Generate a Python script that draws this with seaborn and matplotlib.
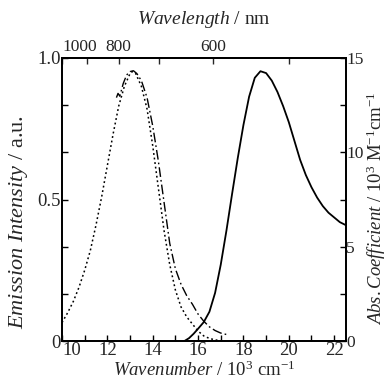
import numpy as np
import pandas as pd
import matplotlib
matplotlib.use("Agg")
import matplotlib.pyplot as plt
import seaborn as sns

# ---- data (wavenumber in 10^3 cm^-1) ----
em1_x = [10.0, 10.25, 10.5, 10.75, 11.0, 11.25, 11.5, 11.75, 12.0, 12.25, 12.5, 12.75,
         13.0, 13.1, 13.25, 13.5, 13.75, 14.0, 14.25, 14.5, 14.75, 15.0, 15.25, 15.5,
         15.75, 16.0, 16.25, 16.5, 16.75, 17.0, 17.2]
em1_y = [0.065, 0.10, 0.14, 0.19, 0.25, 0.32, 0.41, 0.51, 0.62, 0.73, 0.83, 0.90,
         0.945, 0.952, 0.945, 0.90, 0.82, 0.69, 0.54, 0.39, 0.27, 0.18, 0.12, 0.085,
         0.06, 0.035, 0.018, 0.009, 0.004, 0.001, 0.0]

em2_x = [12.4, 12.47, 12.55, 12.7, 12.85, 13.0, 13.15, 13.3, 13.5, 13.75, 14.0, 14.25,
         14.5, 14.75, 15.0, 15.25, 15.5, 15.75, 16.0, 16.25, 16.5, 16.75, 17.0, 17.3]
em2_y = [0.86, 0.875, 0.865, 0.91, 0.94, 0.952, 0.955, 0.945, 0.92, 0.86, 0.76, 0.635,
         0.49, 0.345, 0.255, 0.20, 0.16, 0.13, 0.095, 0.07, 0.05, 0.037, 0.028, 0.022]

abs_x = [15.4, 15.6, 15.8, 16.0, 16.25, 16.5, 16.75, 17.0, 17.25, 17.5, 17.75, 18.0,
         18.25, 18.5, 18.75, 19.0, 19.25, 19.5, 19.75, 20.0, 20.25, 20.5, 20.75, 21.0,
         21.25, 21.5, 21.75, 22.0, 22.25, 22.5]
abs_y = [0.0, 0.15, 0.38, 0.65, 1.0, 1.55, 2.55, 4.05, 5.85, 7.8, 9.7, 11.45,
         12.95, 13.95, 14.3, 14.2, 13.8, 13.2, 12.45, 11.6, 10.6, 9.6, 8.8, 8.15,
         7.6, 7.15, 6.8, 6.55, 6.3, 6.15]

bottom_ticks = [10, 12, 14, 16, 18, 20, 22]
left_ticks = [0, 0.5, 1.0]
left_ticklabels = ["0", "0.5", "1.0"]
right_ticks = [0, 5, 10, 15]
top_ticks_nm = [1000, 900, 800, 700, 600, 500]
top_ticklabels = ["1000", "", "800", "", "600", ""]

sns.set_style("ticks")
plt.rcParams["font.family"] = ["Liberation Serif", "DejaVu Serif"]
plt.rcParams["mathtext.fontset"] = "custom"
plt.rcParams["mathtext.rm"] = "Liberation Serif"
plt.rcParams["mathtext.it"] = "Liberation Serif:italic"
plt.rcParams["mathtext.bf"] = "Liberation Serif:bold"

fig = plt.figure(figsize=(3.89, 3.83), dpi=100)
ax = fig.add_axes([62/389, 42/383, 283.5/389, 283/383])

df1 = pd.DataFrame({"x": em1_x, "y": em1_y})
df2 = pd.DataFrame({"x": em2_x, "y": em2_y})
df3 = pd.DataFrame({"x": abs_x, "y": abs_y})

sns.lineplot(data=df1, x="x", y="y", ax=ax, color="black", lw=1.1,
             sort=False, estimator=None)
ax.lines[-1].set_dashes([1.2, 1.8])
sns.lineplot(data=df2, x="x", y="y", ax=ax, color="black", lw=1.0,
             sort=False, estimator=None)
ax.lines[-1].set_dashes([7, 2.2, 1.2, 2.2])

ax2 = ax.twinx()
sns.lineplot(data=df3, x="x", y="y", ax=ax2, color="black", lw=1.3,
             sort=False, estimator=None)

ax.set_xlim(10, 22.5)
ax.set_ylim(0, 1.0)
ax2.set_ylim(0, 15)

fs = 13.5
ax.set_xticks(bottom_ticks)
ax.set_xticks(np.arange(11, 23, 2), minor=True)
ax.set_xticklabels([str(t) for t in bottom_ticks], fontsize=fs)
ax.get_xticklabels()[0].set_horizontalalignment("left")
ax.set_yticks(left_ticks)
ax.set_yticks([1/6, 2/6, 4/6, 5/6], minor=True)
ax.set_yticklabels(left_ticklabels, fontsize=fs)
ax2.set_yticks(right_ticks)
ax2.set_yticks([2.5, 7.5, 12.5], minor=True)
ax2.set_yticklabels([str(t) for t in right_ticks], fontsize=12.5)

for a in (ax, ax2):
    a.tick_params(which="both", direction="in", length=4, width=1.0, color="black",
                  pad=2)
    for s in a.spines.values():
        s.set_linewidth(1.3)
        s.set_color("black")
ax.tick_params(axis="x", which="both", top=False, pad=1)
ax.tick_params(axis="y", which="both", right=False, pad=1)
ax2.tick_params(axis="y", which="both", pad=0.5)

sec = ax.secondary_xaxis("top", functions=(lambda x: 1e4/np.asarray(x, float),
                                           lambda x: 1e4/np.asarray(x, float)))
sec.set_xticks(top_ticks_nm)
sec.set_xticklabels(top_ticklabels, fontsize=12.5)
sec.tick_params(direction="in", length=4, width=1.0, pad=2)
sec.spines["top"].set_linewidth(1.3)
sec.get_xticklabels()[0].set_horizontalalignment("left")

ax.set_xlabel(r"$\mathit{Wavenumber}$ / 10$^{3}$ cm$^{-1}$", fontsize=13.5, labelpad=1)
sec.set_xlabel(r"$\mathit{Wavelength}$ / nm", fontsize=14, labelpad=11)
ax.set_ylabel(r"$\mathit{Emission\ Intensity}$ / a.u.", fontsize=16)
ax.yaxis.set_label_coords(-0.114, 0.42)
ax2.set_ylabel(r"$\mathit{Abs.Coefficient}$ / 10$^{3}$ M$^{-1}$cm$^{-1}$", fontsize=13.5)
ax2.yaxis.set_label_coords(1.068, 0.47)

fig.savefig("out.png", dpi=100)
